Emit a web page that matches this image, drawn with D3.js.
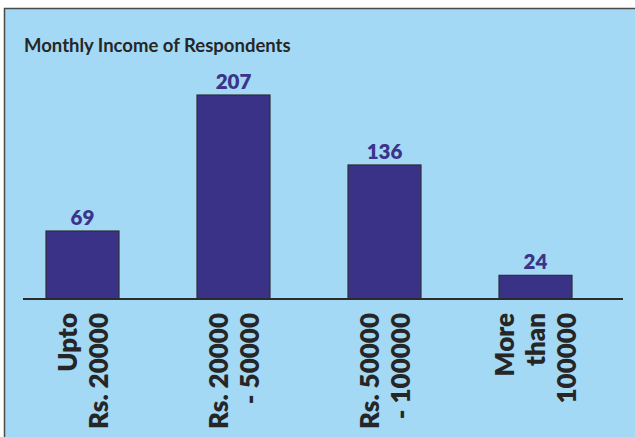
<!DOCTYPE html>
<html>
<head>
<meta charset="utf-8">
<script src="https://cdn.jsdelivr.net/npm/d3@7"></script>
<style>
  html, body { margin: 0; padding: 0; background: #ffffff; }
  svg { display: block; }
</style>
</head>
<body>
<svg id="chart" width="635" height="437"></svg>
<script>
// Income bands (each label split into its printed lines) and respondent counts
const categories = ["Upto Rs. 20000", "Rs. 20000 - 50000", "Rs. 50000 - 100000", "More than 100000"];
const categoryLines = [
  ["Upto", "Rs. 20000"],
  ["Rs. 20000", "- 50000"],
  ["Rs. 50000", "- 100000"],
  ["More", "than", "100000"]
];
const respondents = [69, 207, 136, 24];
const chartTitle = "Monthly Income of Respondents";

const svg = d3.select("#chart");
const W = 635, H = 437;

const bg = "#a3d9f5";
const barFill = "#3a3286";
const labelColor = "#3b348a";
const textDark = "#262626";
const font = "Lato, 'Open Sans', sans-serif";

// panel background with frame
svg.append("rect")
  .attr("x", 4.5).attr("y", 8.5)
  .attr("width", W + 10).attr("height", H + 10)
  .attr("fill", bg)
  .attr("stroke", "#4a4a4a").attr("stroke-width", 1.5);

svg.append("text")
  .attr("x", 24).attr("y", 52)
  .attr("font-family", font).attr("font-weight", 700)
  .attr("font-size", 18.5).attr("fill", textDark)
  .text(chartTitle);

const x = d3.scaleBand()
  .domain(categories)
  .range([7, 611])
  .paddingInner(0.5166)
  .paddingOuter(0.2583);

const y = d3.scaleLinear()
  .domain([0, d3.max(respondents)])
  .range([299, 95]);

const data = categories.map((c, i) => ({ cat: c, lines: categoryLines[i], value: respondents[i] }));

// bars
svg.append("g").selectAll("rect")
  .data(data)
  .join("rect")
  .attr("x", d => x(d.cat))
  .attr("y", d => y(d.value))
  .attr("width", x.bandwidth())
  .attr("height", d => y(0) - y(d.value))
  .attr("fill", barFill)
  .attr("stroke", "#2d2d3a").attr("stroke-width", 1.2);

// value labels
svg.append("g").selectAll("text")
  .data(data)
  .join("text")
  .attr("x", d => x(d.cat) + x.bandwidth() / 2)
  .attr("y", d => y(d.value) - 6)
  .attr("text-anchor", "middle")
  .attr("font-family", font).attr("font-weight", 800)
  .attr("font-size", 20.5).attr("fill", labelColor)
  .text(d => d.value);

// category axis baseline
svg.append("line")
  .attr("x1", 23).attr("x2", 623)
  .attr("y1", y(0)).attr("y2", y(0))
  .attr("stroke", "#2b2b2b").attr("stroke-width", 2.2);

// rotated multi-line category labels
const pitch = 31, capHalf = 9.5;
const cat = svg.append("g").selectAll("g")
  .data(data)
  .join("g")
  .attr("transform", d => `translate(${x(d.cat) + x.bandwidth() / 2}, 313) rotate(-90)`);

cat.each(function(d) {
  const n = d.lines.length;
  d3.select(this).selectAll("text")
    .data(d.lines)
    .join("text")
    .attr("x", 0)
    .attr("y", (t, i) => (i - (n - 1) / 2) * pitch + capHalf)
    .attr("text-anchor", "end")
    .attr("font-family", font).attr("font-weight", 800)
    .attr("font-size", 26).attr("fill", textDark)
    .text(t => t);
});
</script>
</body>
</html>
